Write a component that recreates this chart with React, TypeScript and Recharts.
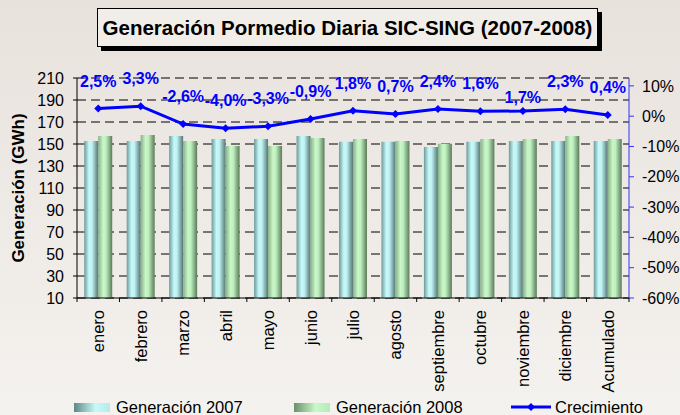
import { Bar, CartesianGrid, ComposedChart, LabelList, Line, XAxis, YAxis } from "recharts";

const months = [
  "enero",
  "febrero",
  "marzo",
  "abril",
  "mayo",
  "junio",
  "julio",
  "agosto",
  "septiembre",
  "octubre",
  "noviembre",
  "diciembre",
  "Acumulado",
];
const gen2007 = [152.7, 152.7, 157.3, 154.5, 154.5, 157.3, 152.1, 152.1, 147.3, 152.1, 152.7, 152.7, 152.7];
const gen2008 = [157.3, 158.2, 152.7, 148.2, 148.2, 155.5, 154.5, 152.7, 150.3, 154.5, 154.5, 157.3, 154.5];
const growth = [2.5, 3.3, -2.6, -4.0, -3.3, -0.9, 1.8, 0.7, 2.4, 1.6, 1.7, 2.3, 0.4];
const genTicks = [10, 30, 50, 70, 90, 110, 130, 150, 170, 190, 210];
const pctTicks = [-60, -50, -40, -30, -20, -10, 0, 10];

const data = months.map((m, i) => ({ m, g7: gen2007[i], g8: gen2008[i], gr: growth[i] }));

const FONT = '"Liberation Sans", Arial, sans-serif';
const W = 680;
const H = 415;
const PLOT_L = 77;
const PLOT_R = 629;
const PLOT_T = 78;
const PLOT_B = 298;
const BAND = (PLOT_R - PLOT_L) / months.length;

const fmtPct = (v: number) => `${v.toFixed(1).replace(".", ",")}%`;

function MonthTick(props: any) {
  const { x, payload, index } = props;
  return (
    <g>
      {index === 0 && <line x1={x - BAND / 2} x2={x - BAND / 2} y1={PLOT_B} y2={PLOT_B + 4} stroke="#000" />}
      <line x1={x + BAND / 2} x2={x + BAND / 2} y1={PLOT_B} y2={PLOT_B + 4} stroke="#000" />
      <text
        transform={`translate(${x + 6},${PLOT_B + 12}) rotate(-90)`}
        textAnchor="end"
        fontSize={16.5}
        fontFamily={FONT}
        fill="#000"
      >
        {payload.value}
      </text>
    </g>
  );
}

function Diamond(props: any) {
  const { cx, cy } = props;
  if (cx == null || cy == null) return null;
  return <polygon points={`${cx},${cy - 4} ${cx + 4},${cy} ${cx},${cy + 4} ${cx - 4},${cy}`} fill="#0000ff" />;
}

function GrowthLabel(props: any) {
  const { x, y, value, index } = props;
  // noviembre sits lower in the original
  const dy = index === 10 ? -8 : -22;
  return (
    <text x={x} y={y + dy} textAnchor="middle" fontSize={16} fontWeight="bold" fontFamily={FONT} fill="#0000ff">
      {fmtPct(value)}
    </text>
  );
}

function LegendItem({ kind, label, left }: { kind: string; label: string; left: number }) {
  return (
    <div style={{ position: "absolute", left, top: 398, display: "flex", alignItems: "center", height: 18 }}>
      <svg width={42} height={18}>
        {kind === "line" ? (
          <>
            <line x1={0} x2={40} y1={9} y2={9} stroke="#0000ff" strokeWidth={3} />
            <polygon points="20,5 24,9 20,13 16,9" fill="#0000ff" />
          </>
        ) : (
          <rect x={0} y={5} width={36} height={9} fill={`url(#leg-${kind})`} />
        )}
        <defs>
          <linearGradient id="leg-g7" x1="0" y1="0" x2="1" y2="0">
            <stop offset="0%" stopColor="#5e8686" />
            <stop offset="60%" stopColor="#c6fafa" />
            <stop offset="100%" stopColor="#b6eaea" />
          </linearGradient>
          <linearGradient id="leg-g8" x1="0" y1="0" x2="1" y2="0">
            <stop offset="0%" stopColor="#6b8f6b" />
            <stop offset="60%" stopColor="#c8f8c8" />
            <stop offset="100%" stopColor="#b8eab8" />
          </linearGradient>
        </defs>
      </svg>
      <span style={{ fontFamily: FONT, fontSize: 16.5, color: "#000", marginLeft: kind === "line" ? 2 : 0 }}>{label}</span>
    </div>
  );
}

export default function App() {
  return (
    <div
      style={{
        position: "absolute",
        left: 0,
        top: 0,
        width: W,
        height: H,
        background: "linear-gradient(to bottom, #e8e2dc, #f4f2ef)",
        overflow: "hidden",
      }}
    >
      <div
        style={{
          position: "absolute",
          left: 97,
          top: 8,
          width: 499,
          height: 37,
          border: "1px solid #000",
          background: "#f1eeea",
          boxShadow: "4px 4px 0 #000",
          fontFamily: FONT,
          fontWeight: "bold",
          fontSize: 20.5,
          lineHeight: "37px",
          textAlign: "center",
          whiteSpace: "nowrap",
        }}
      >
        Generación Pormedio Diaria SIC-SING (2007-2008)
      </div>

      <ComposedChart
        width={W}
        height={H}
        data={data}
        margin={{ top: PLOT_T, left: PLOT_L - 60, right: W - PLOT_R - 51, bottom: H - PLOT_B - 100 }}
        barCategoryGap="17%"
        barGap={0}
        style={{ position: "absolute", left: 0, top: 0 }}
      >
        <defs>
          <linearGradient id="bar7" x1="0" y1="0" x2="1" y2="0">
            <stop offset="0%" stopColor="#6d9a9a" />
            <stop offset="35%" stopColor="#c6fafa" />
            <stop offset="55%" stopColor="#bff3f3" />
            <stop offset="100%" stopColor="#557575" />
          </linearGradient>
          <linearGradient id="bar8" x1="0" y1="0" x2="1" y2="0">
            <stop offset="0%" stopColor="#88b088" />
            <stop offset="35%" stopColor="#c8f8c8" />
            <stop offset="55%" stopColor="#bff0bf" />
            <stop offset="100%" stopColor="#5a7a5a" />
          </linearGradient>
        </defs>
        <CartesianGrid yAxisId="gen" vertical={false} stroke="#000" strokeDasharray="9 5" />
        <XAxis
          dataKey="m"
          interval={0}
          height={100}
          stroke="#000"
          tickLine={false}
          tick={<MonthTick />}
        />
        <YAxis
          yAxisId="gen"
          width={60}
          domain={[10, 210]}
          ticks={genTicks}
          interval={0}
          stroke="#000"
          tickSize={4}
          tickMargin={9}
          tick={{ fill: "#000", fontSize: 16, fontFamily: FONT }}
          label={{
            value: "Generación (GWh)",
            angle: -90,
            position: "center",
            dx: -29,
            style: { fontSize: 17, fontWeight: "bold", fontFamily: FONT, fill: "#000" },
          }}
        />
        <YAxis
          yAxisId="pct"
          orientation="right"
          width={51}
          domain={[-60, 12.6]}
          ticks={pctTicks}
          interval={0}
          allowDataOverflow
          stroke="#3333ff"
          tickSize={5}
          tickMargin={8}
          tickFormatter={(v: number) => `${v}%`}
          tick={{ fill: "#000", fontSize: 16, fontFamily: FONT }}
        />
        <Bar yAxisId="gen" dataKey="g7" fill="url(#bar7)" isAnimationActive={false} />
        <Bar yAxisId="gen" dataKey="g8" fill="url(#bar8)" isAnimationActive={false} />
        <Line
          yAxisId="pct"
          dataKey="gr"
          stroke="#0000ff"
          strokeWidth={3}
          dot={<Diamond />}
          activeDot={false}
          isAnimationActive={false}
        >
          <LabelList dataKey="gr" content={<GrowthLabel />} />
        </Line>
      </ComposedChart>

      <LegendItem kind="g7" label="Generación 2007" left={74} />
      <LegendItem kind="g8" label="Generación 2008" left={294} />
      <LegendItem kind="line" label="Crecimiento" left={511} />
    </div>
  );
}
